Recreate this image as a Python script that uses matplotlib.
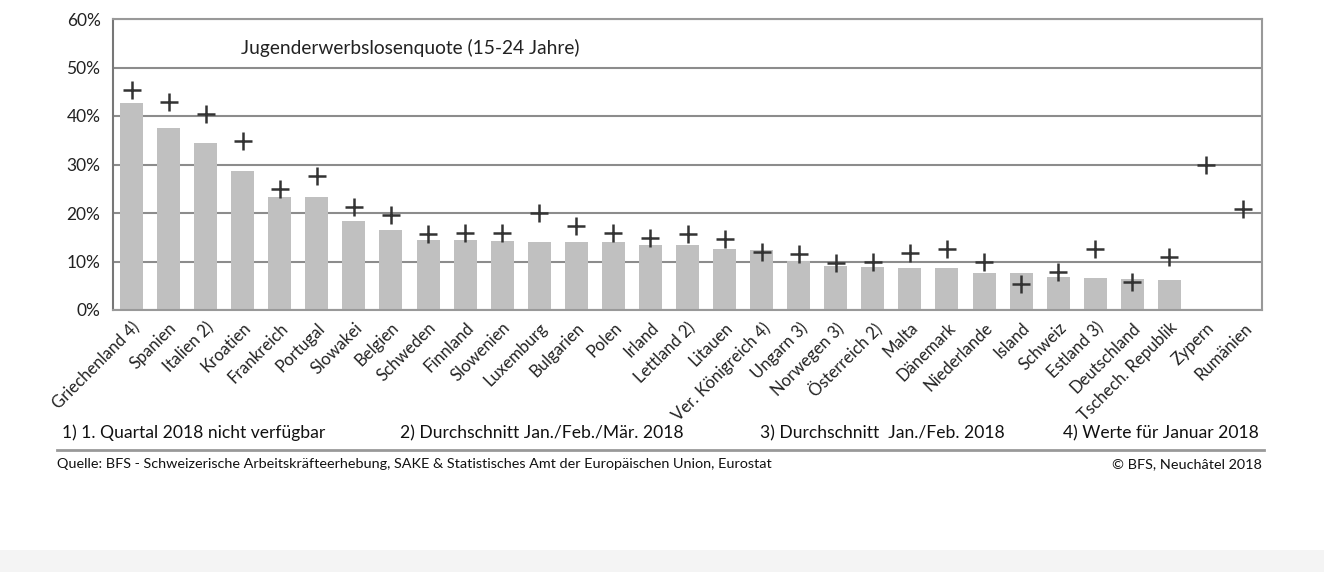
import matplotlib
matplotlib.use("Agg")
import matplotlib.pyplot as plt
import numpy as np
from matplotlib.ticker import PercentFormatter

countries = ["Griechenland 4)", "Spanien", "Italien 2)", "Kroatien", "Frankreich",
             "Portugal", "Slowakei", "Belgien", "Schweden", "Finnland", "Slowenien",
             "Luxemburg", "Bulgarien", "Polen", "Irland", "Lettland 2)", "Litauen",
             "Ver. Königreich 4)", "Ungarn 3)", "Norwegen 3)", "Österreich 2)", "Malta",
             "Dänemark", "Niederlande", "Island", "Schweiz", "Estland 3)", "Deutschland",
             "Tschech. Republik", "Zypern", "Rumänien"]
bar_values = [42.7, 37.6, 34.5, 28.6, 23.4, 23.4, 18.4, 16.5, 14.4, 14.4, 14.2,
              14.1, 14.0, 14.0, 13.3, 13.3, 12.6, 12.4, 10.2, 9.1, 8.9, 8.7,
              8.7, 7.6, 7.6, 6.9, 6.7, 6.3, 6.2, np.nan, np.nan]
plus_values = [45.3, 42.9, 40.5, 34.8, 24.9, 27.6, 21.2, 19.6, 15.6, 15.8, 15.8,
               19.9, 17.3, 15.9, 14.8, 15.7, 14.6, 12.0, 11.5, 9.6, 10.0, 11.8,
               12.5, 10.0, 5.4, 7.8, 12.6, 5.8, 11.0, 29.8, 20.8]
yticks = [0, 10, 20, 30, 40, 50, 60]

title = "Jugenderwerbslosenquote (15-24 Jahre)"
footnotes = ["1) 1. Quartal 2018 nicht verfügbar", "2) Durchschnitt Jan./Feb./Mär. 2018",
             "3) Durchschnitt  Jan./Feb. 2018", "4) Werte für Januar 2018"]
source = "Quelle: BFS - Schweizerische Arbeitskräfteerhebung, SAKE & Statistisches Amt der Europäischen Union, Eurostat"
copyright_txt = "© BFS, Neuchâtel 2018"

W, H = 1324, 572
fig = plt.figure(figsize=(W / 100, H / 100), dpi=100)
fig.patch.set_facecolor("white")
FAM = ["Lato", "DejaVu Sans"]

# light band at bottom
fig.patches.append(plt.Rectangle((0, 0), 1, 22 / H, transform=fig.transFigure,
                                 facecolor="#f4f4f4", edgecolor="none", zorder=0))

ax = fig.add_axes([113 / W, 1 - 310 / H, (1262 - 113) / W, (310 - 19) / H])
x = np.arange(len(countries))
ax.bar(x, bar_values, width=0.62, color="#c0c0c0", zorder=2)
ax.plot(x, plus_values, linestyle="none", marker="+", markersize=13,
        markeredgewidth=1.8, color="#333333", zorder=3)

ax.set_xlim(-0.5, len(countries) - 0.5)
ax.set_ylim(0, 60)
ax.set_yticks(yticks)
ax.yaxis.set_major_formatter(PercentFormatter(decimals=0))
ax.grid(axis="y", color="#8c8c8c", linewidth=1.5, zorder=1)
ax.set_axisbelow(True)
for s in ["top", "right", "bottom"]:
    ax.spines[s].set_color("#999999")
    ax.spines[s].set_linewidth(1.5)
ax.spines["left"].set_color("#777777")
ax.spines["left"].set_linewidth(1.5)

ax.set_xticks(x)
ax.set_xticklabels(countries, rotation=45, ha="right", rotation_mode="anchor",
                   fontsize=12, family=FAM, color="#222222")
ax.tick_params(axis="x", length=0, pad=7)
ax.tick_params(axis="y", length=0, pad=9, labelsize=12.5, labelcolor="#222222")
for lab in ax.get_yticklabels():
    lab.set_family(FAM)

ax.text(0.259, 0.90, title, transform=ax.transAxes, ha="center", va="center",
        fontsize=13.8, family=FAM, color="#222222")

fn_x = [62, 400, 760, 1063]
for fx, t in zip(fn_x, footnotes):
    fig.text(fx / W, 1 - 433 / H, t, ha="left", va="center", fontsize=12.6,
             family=FAM, color="#111111")

fig.add_artist(plt.Line2D([57 / W, 1264 / W], [1 - 450 / H, 1 - 450 / H],
                          transform=fig.transFigure, color="#999999", linewidth=2))

fig.text(57 / W, 1 - 464 / H, source, ha="left", va="center", fontsize=10.4,
         family=FAM, color="#111111")
fig.text(1262 / W, 1 - 464 / H, copyright_txt, ha="right", va="center", fontsize=10.4,
         family=FAM, color="#111111")

fig.savefig("out.png", dpi=100)
